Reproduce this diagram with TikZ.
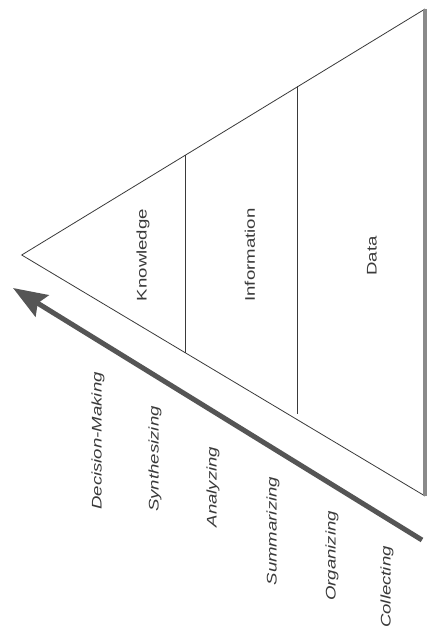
\documentclass[tikz,border=0pt]{standalone}
\usepackage{fontspec}
\usepackage{graphicx}
\setmainfont{Liberation Sans}
\usetikzlibrary{arrows.meta}
\definecolor{ink}{HTML}{3A3A3A}
\definecolor{edge}{HTML}{8A8A8A}
\definecolor{arrowc}{HTML}{555555}
\newcommand{\lbltxt}[1]{\scalebox{1}[0.75]{#1}}
\tikzset{
  lbl/.style={rotate=90, inner sep=0pt, text=ink, font=\fontsize{18.6}{20}\selectfont},
  proc/.style={lbl, font=\fontsize{18.6}{20}\selectfont\itshape},
  thinline/.style={draw=ink, line width=0.8pt},
}
\begin{document}
\begin{tikzpicture}[x=1pt,y=-1pt]
\useasboundingbox (0,0) rectangle (434,634);
\fill[white] (0,0) rectangle (434,634);
% pyramid corners
\coordinate (apex) at (21.7,255);
\coordinate (tr) at (425,9);
\coordinate (br) at (425,496);
\coordinate (k1) at (185,155.4);
\coordinate (k2) at (185,352.6);
\coordinate (i1) at (297,86);
\coordinate (i2) at (297,414);
\draw[thinline, line join=miter] (tr) -- (apex) -- (br);
\draw[draw=edge, line width=4pt] (tr) -- (br);
\draw[thinline] (k1) -- (k2);
\draw[thinline] (i1) -- (i2);
% layer labels
\node[lbl] (know) at (143,255) {\lbltxt{Knowledge}};
\node[lbl] (info) at (250,255) {\lbltxt{Information}};
\node[lbl] (data) at (372,256) {\lbltxt{Data}};
% arrow
\coordinate (astart) at (422,540);
\coordinate (atip) at (13,288);
\draw[arrowc, line width=5pt, -{Stealth[length=34pt,width=25pt,inset=5pt]}] (astart) -- (atip);
% process labels
\node[proc] (dm) at (98,441) {\lbltxt{Decision-Making}};
\node[proc] (sy) at (155,459) {\lbltxt{Synthesizing}};
\node[proc] (an) at (213,487) {\lbltxt{Analyzing}};
\node[proc] (su) at (273,531) {\lbltxt{Summarizing}};
\node[proc] (or) at (332,556) {\lbltxt{Organizing}};
\node[proc] (co) at (387,587) {\lbltxt{Collecting}};
\end{tikzpicture}
\end{document}
